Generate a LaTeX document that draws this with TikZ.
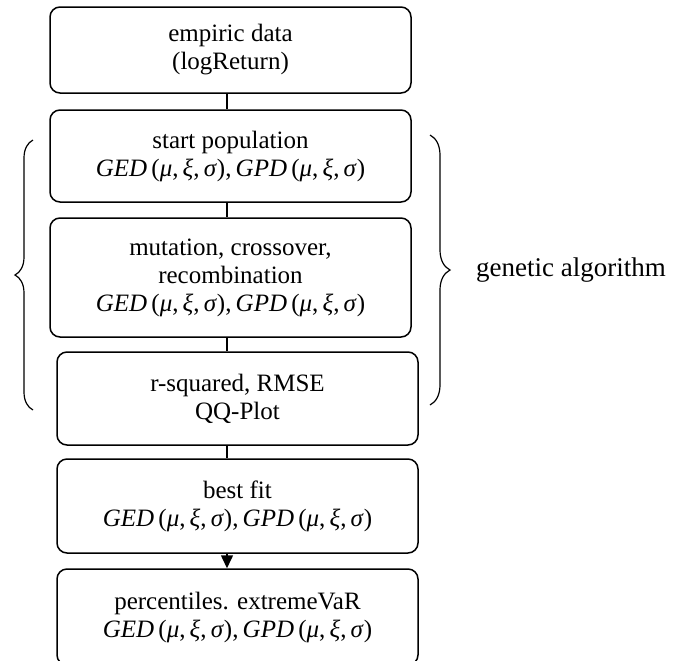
\documentclass[tikz,border=0pt]{standalone}
\usepackage{fontspec}
\setmainfont{Liberation Serif}
\newfontfamily\timesfont{Liberation Serif}
\usetikzlibrary{arrows.meta,decorations.pathreplacing}

\tikzset{
  stepbox/.style={draw, rounded corners=5pt, line width=0.75pt, inner sep=0pt,
    minimum width=180.5pt, align=center, font=\timesfont\fontsize{12.5}{14}\selectfont},
  gabrace/.style={decorate, line width=0.6pt, decoration={brace, amplitude=#1}},
}

\newcommand{\distpair}{\textit{GED}\,(\textit{μ},\,\textit{ξ},\,\textit{σ}),\,\textit{GPD}\,(\textit{μ},\,\textit{ξ},\,\textit{σ})}

\begin{document}
\begin{tikzpicture}[x=0.5pt,y=-0.5pt]
      \useasboundingbox (0,0) rectangle (681,660);
      \draw
        (230.5,50) node[stepbox, minimum height=43pt] (data){empiric data\\(logReturn)}
        (230.5,156) node[stepbox, minimum height=46pt] (start){start population\\\distpair}
        (230.5,277.5) node[stepbox, minimum height=59.5pt] (mutate){mutation, crossover,\\recombination\\\distpair}
        (237.5,398.5) node[stepbox, minimum height=46.5pt] (fitness){r-squared, RMSE\\QQ-Plot}
        (237.5,506) node[stepbox, minimum height=47pt] (best){best fit\\\distpair}
        (237.5,617) node[stepbox, minimum height=48pt] (pct){percentiles. extremeVaR\\\distpair}
        (571,270) node[font=\timesfont\fontsize{13.5}{16}\selectfont] (galabel){genetic algorithm};
      \coordinate (axis) at (227,0);
      \begin{scope}[line width=0.75pt]
        \draw (data.south -| axis) to (start.north -| axis);
        \draw (start.south -| axis) to (mutate.north -| axis);
        \draw (mutate.south -| axis) to (fitness.north -| axis);
        \draw (fitness.south -| axis) to (best.north -| axis);
        \draw[-{Triangle[length=6.5pt,width=6pt]}] (best.south -| axis) to (pct.north -| axis);
      \end{scope}
      \draw[gabrace=9pt] (33,410) -- (33,140);
      \draw[gabrace=10pt] (430,135) -- (430,405);
    \end{tikzpicture}
\end{document}
